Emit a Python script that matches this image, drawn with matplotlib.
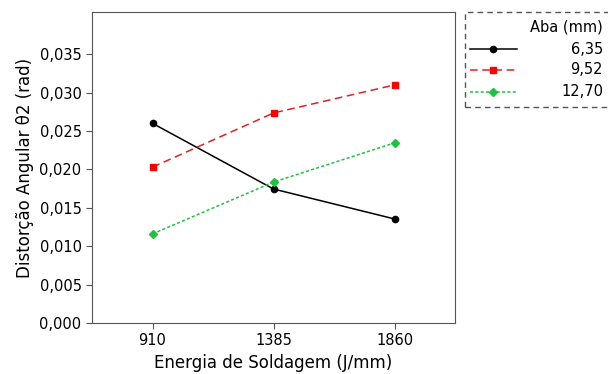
import matplotlib.pyplot as plt
from matplotlib.lines import Line2D
from matplotlib.patches import Rectangle
from matplotlib.ticker import FuncFormatter

# energy levels (x categories)
energia = ['910', '1385', '1860']
# angular distortion per flange size
aba_labels = ['6,35', '9,52', '12,70']
d_635 = [0.0260, 0.01745, 0.01355]
d_952 = [0.0203, 0.02735, 0.0310]
d_1270 = [0.0116, 0.01835, 0.02345]

plt.rcParams['font.family'] = ['DejaVu Sans']

fig = plt.figure(figsize=(6.08, 3.74), dpi=100)
ax = fig.add_axes([92/608, 1 - 323/374, (455-92)/608, (323-12)/374])

x = [1, 2, 3]
lines = [
    dict(color='black', ls='-', lw=1.1),
    dict(color='#e02020', ls=(0, (5, 3)), lw=1.1),
    dict(color='#20c040', ls=(0, (2, 1.5)), lw=1.1),
]
marks = [
    dict(marker='o', mfc='black', mec='black', ms=4.5),
    dict(marker='s', mfc='red', mec='red', ms=4.5),
    dict(marker='D', mfc='#20c040', mec='#20c040', ms=4),
]
for vals, ln, mk in zip([d_635, d_952, d_1270], lines, marks):
    ax.plot(x, vals, **ln, **mk)

ax.set_xlim(0.5, 3.5)
ax.set_ylim(0, 0.0405)
ax.set_xticks(x)
ax.set_xticklabels(energia)
ax.set_yticks([0.005 * i for i in range(8)])
ax.yaxis.set_major_formatter(FuncFormatter(lambda v, p: f'{v:.3f}'.replace('.', ',')))
ax.tick_params(labelsize=10.5, length=4, color='#555555')
for s in ax.spines.values():
    s.set_color('#555555')
ax.set_xlabel('Energia de Soldagem (J/mm)', fontsize=12)
ax.set_ylabel('Distorção Angular θ2 (rad)', fontsize=12)

# legend box drawn by hand (right-aligned labels)
def fx(px):
    return px / 608
def fy(py):
    return 1 - py / 374

fig.add_artist(Rectangle((fx(465), fy(107)), fx(160), fy(12) - fy(107),
                         transform=fig.transFigure, fill=False, ec='#555555',
                         ls=(0, (4, 3)), lw=1))
fig.text(fx(603), fy(27), 'Aba (mm)', ha='right', va='center', fontsize=10.5)
rows = [49, 70, 92]
for lab, ln, mk, ry in zip(aba_labels, lines, marks, rows):
    fig.add_artist(Line2D([fx(470), fx(517)], [fy(ry), fy(ry)],
                          transform=fig.transFigure, **ln))
    fig.add_artist(Line2D([fx(493)], [fy(ry)], transform=fig.transFigure,
                          ls='none', **mk))
    fig.text(fx(603), fy(ry), lab, ha='right', va='center', fontsize=10.5)

fig.savefig('out.png', dpi=100)
